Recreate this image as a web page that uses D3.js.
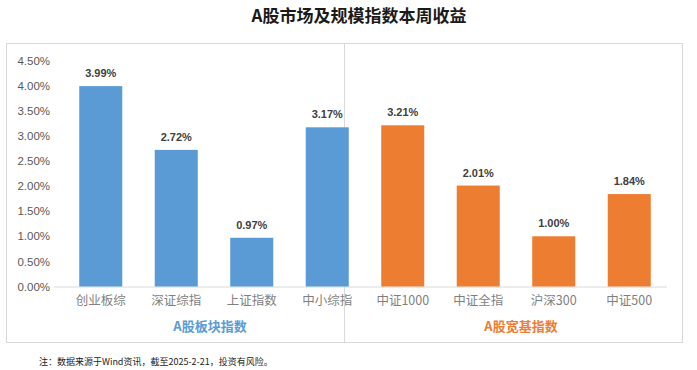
<!DOCTYPE html>
<html>
<head>
<meta charset="utf-8">
<script src="https://cdn.jsdelivr.net/npm/d3@7"></script>
<style>
  body { margin: 0; background: #fff; }
  svg { display: block; }
</style>
</head>
<body>
<svg id="chart" width="697" height="370"></svg>
<script>
var categories = ['创业板综', '深证综指', '上证指数', '中小综指', '中证1000', '中证全指', '沪深300', '中证500'];
var returns = [3.99, 2.72, 0.97, 3.17, 3.21, 2.01, 1.00, 1.84];
var groups = ['A股板块指数', 'A股宽基指数'];
var groupOf = [0, 0, 0, 0, 1, 1, 1, 1];
var yTicks = [0, 0.5, 1, 1.5, 2, 2.5, 3, 3.5, 4, 4.5];

var colors = ['#5b9bd5', '#ed7d31'];
var cjk = '"Noto Sans CJK SC", "Noto Sans", sans-serif';

var svg = d3.select('#chart');

// frame
svg.append('rect')
	.attr('x', 6.5).attr('y', 43.5)
	.attr('width', 676).attr('height', 299)
	.style('fill', 'none')
	.style('stroke', '#d9d9d9');

svg.append('text')
	.attr('x', 359).attr('y', 22)
	.attr('text-anchor', 'middle')
	.style('font-family', cjk)
	.style('font-size', '17px')
	.style('font-weight', 'bold')
	.style('fill', '#1a1a1a')
	.text('A股市场及规模指数本周收益');

var plotLeft = 54, plotRight = 667, plotTop = 60.5, plotBottom = 286.5;

var x = d3.scaleBand()
	.domain(categories)
	.range([63, plotRight])
	.paddingInner(0.43)
	.paddingOuter(0.215);

var y = d3.scaleLinear()
	.domain([0, 4.5])
	.range([plotBottom, plotTop]);

// divider between the two groups
svg.append('line')
	.attr('x1', 344.5).attr('x2', 344.5)
	.attr('y1', 44).attr('y2', 342)
	.style('stroke', '#d9d9d9');

var yAxis = svg.append('g')
	.attr('transform', 'translate(' + plotLeft + ',0)')
	.call(d3.axisLeft(y).tickValues(yTicks).tickSize(0).tickPadding(4)
		.tickFormat(function(d) { return d.toFixed(2) + '%'; }));
yAxis.select('.domain').remove();
yAxis.selectAll('text')
	.style('font-family', '"Liberation Sans", Arial, sans-serif')
	.style('font-size', '11.5px')
	.style('fill', '#595959');

var xAxis = svg.append('g')
	.attr('transform', 'translate(0,' + plotBottom + ')')
	.call(d3.axisBottom(x).tickSize(0).tickPadding(10));
xAxis.select('.domain')
	.style('stroke', '#d9d9d9')
	.attr('d', 'M' + plotLeft + ',0.5H' + plotRight);
xAxis.selectAll('text')
	.style('font-family', cjk)
	.style('font-size', '12.5px')
	.style('fill', '#7f7f7f');

var bars = svg.append('g');
bars.selectAll('rect')
	.data(returns)
	.enter().append('rect')
	.attr('x', function(d, i) { return x(categories[i]); })
	.attr('y', function(d) { return y(d); })
	.attr('width', x.bandwidth())
	.attr('height', function(d) { return plotBottom - y(d); })
	.style('fill', function(d, i) { return colors[groupOf[i]]; });

bars.selectAll('text')
	.data(returns)
	.enter().append('text')
	.attr('x', function(d, i) { return x(categories[i]) + x.bandwidth() / 2; })
	.attr('y', function(d) { return y(d) - 9; })
	.attr('text-anchor', 'middle')
	.style('font-family', '"Liberation Sans", Arial, sans-serif')
	.style('font-size', '11px')
	.style('font-weight', 'bold')
	.style('fill', '#404040')
	.text(function(d) { return d.toFixed(2) + '%'; });

// group labels under each half
var groupShift = [-4, 5];
groups.forEach(function(g, gi) {
	var members = categories.filter(function(c, i) { return groupOf[i] === gi; });
	var x0 = x(members[0]), x1 = x(members[members.length - 1]) + x.bandwidth();
	svg.append('text')
		.attr('x', (x0 + x1) / 2 + groupShift[gi])
		.attr('y', 331)
		.attr('text-anchor', 'middle')
		.style('font-family', cjk)
		.style('font-size', '13px')
		.style('font-weight', 'bold')
		.style('fill', colors[gi])
		.text(g);
});

svg.append('text')
	.attr('x', 39).attr('y', 365)
	.style('font-family', cjk)
	.style('font-size', '9px')
	.style('fill', '#222')
	.text('注：数据来源于Wind资讯，截至2025-2-21，投资有风险。');
</script>
</body>
</html>
